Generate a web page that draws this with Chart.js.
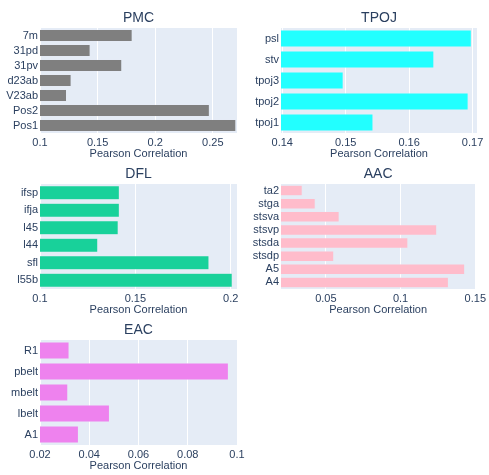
<!DOCTYPE html>
<html>
<head>
<meta charset="utf-8">
<script src="https://cdn.jsdelivr.net/npm/chart.js@4.4.0/dist/chart.umd.min.js"></script>
<style>
  html, body { margin: 0; padding: 0; background: #fff; overflow: hidden; }
  body { width: 489px; height: 475px; position: relative; }
  canvas { position: absolute; }
</style>
</head>
<body>
<canvas id="pmc"></canvas>
<canvas id="tpoj"></canvas>
<canvas id="dfl"></canvas>
<canvas id="aac"></canvas>
<canvas id="eac"></canvas>
<script>
// PMC
const pmcLabels = ['7m', '31pd', '31pv', 'd23ab', 'V23ab', 'Pos2', 'Pos1'];
const pmcValues = [0.180, 0.1435, 0.171, 0.127, 0.123, 0.247, 0.270];
const pmcTicks = [0.1, 0.15, 0.2, 0.25];

// TPOJ
const tpojLabels = ['psl', 'stv', 'tpoj3', 'tpoj2', 'tpoj1'];
const tpojValues = [0.1698, 0.1639, 0.1496, 0.1693, 0.1543];
const tpojTicks = [0.14, 0.15, 0.16, 0.17];

// DFL
const dflLabels = ['ifsp', 'ifja', 'l45', 'l44', 'sfl', 'l55b'];
const dflValues = [0.1416, 0.1416, 0.141, 0.1303, 0.1886, 0.2008];
const dflTicks = [0.1, 0.15, 0.2];

// AAC
const aacLabels = ['ta2', 'stga', 'stsva', 'stsvp', 'stsda', 'stsdp', 'A5', 'A4'];
const aacValues = [0.0342, 0.0429, 0.0589, 0.1242, 0.1049, 0.0553, 0.1429, 0.132];
const aacTicks = [0.05, 0.1, 0.15];

// EAC
const eacLabels = ['R1', 'pbelt', 'mbelt', 'lbelt', 'A1'];
const eacValues = [0.0318, 0.0965, 0.0313, 0.0482, 0.0356];
const eacTicks = [0.02, 0.04, 0.06, 0.08, 0.1];

const FONT = '"Liberation Sans", Arial, sans-serif';
const TEXT = '#2a3f5f';

// fondo del area de dibujo + titulo de cada subplot
const plotBg = {
  id: 'plotBg',
  beforeDraw(chart) {
    const a = chart.chartArea;
    const ctx = chart.ctx;
    ctx.save();
    ctx.fillStyle = '#E5ECF6';
    ctx.fillRect(a.left, a.top, a.right - a.left, a.bottom - a.top);
    ctx.restore();
  },
  afterDraw(chart) {
    const a = chart.chartArea;
    const ctx = chart.ctx;
    ctx.save();
    ctx.font = '14px ' + FONT;
    ctx.fillStyle = TEXT;
    ctx.textAlign = 'center';
    ctx.textBaseline = 'middle';
    ctx.fillText(chart.options.plugins.plotBg.title, (a.left + a.right) / 2, a.top - 10);
    ctx.restore();
  }
};

function crearSubplot(id, pos, titulo, labels, values, ticks, min, max, color) {
  const canvas = document.getElementById(id);
  canvas.style.left = pos.left + 'px';
  canvas.style.top = pos.top + 'px';
  canvas.style.width = pos.width + 'px';
  canvas.style.height = pos.height + 'px';
  canvas.width = pos.width;
  canvas.height = pos.height;

  return new Chart(canvas.getContext('2d'), {
    type: 'bar',
    data: {
      labels: labels,
      datasets: [{
        data: values,
        backgroundColor: color,
        borderColor: 'rgba(229, 236, 246, 0.8)',
        borderWidth: 0.5,
        barPercentage: 0.8,
        categoryPercentage: 1.0
      }]
    },
    options: {
      indexAxis: 'y',
      responsive: false,
      animation: false,
      devicePixelRatio: 1,
      layout: { padding: { top: 24, right: 12, bottom: 0, left: 0 } },
      scales: {
        x: {
          min: min,
          max: max,
          afterBuildTicks: scale => { scale.ticks = ticks.map(v => ({ value: v })); },
          afterFit: scale => { scale.height = 30; },
          grid: { color: '#ffffff', lineWidth: 1, drawTicks: false },
          border: { display: false },
          ticks: {
            autoSkip: false,
            maxRotation: 0,
            padding: 3,
            color: TEXT,
            font: { family: FONT, size: 11 },
            callback: v => String(v)
          },
          title: {
            display: true,
            text: 'Pearson Correlation',
            color: TEXT,
            font: { family: FONT, size: 11 },
            padding: { top: 0, bottom: 2 }
          }
        },
        y: {
          afterFit: scale => { scale.width = pos.axis; },
          grid: { display: false, drawTicks: false },
          border: { display: false },
          ticks: {
            autoSkip: false,
            padding: 2,
            color: TEXT,
            font: { family: FONT, size: 11 }
          }
        }
      },
      plugins: {
        legend: { display: false },
        tooltip: { enabled: false },
        plotBg: { title: titulo }
      }
    },
    plugins: [plotBg]
  });
}

crearSubplot('pmc', { left: 0, top: 4, width: 249, height: 159, axis: 40 },
  'PMC', pmcLabels, pmcValues, pmcTicks, 0.1, 0.271, '#7f7f7f');
crearSubplot('tpoj', { left: 245, top: 4, width: 244, height: 159, axis: 36 },
  'TPOJ', tpojLabels, tpojValues, tpojTicks, 0.1398, 0.1707, '#22ffff');
crearSubplot('dfl', { left: 0, top: 160, width: 249, height: 159, axis: 40 },
  'DFL', dflLabels, dflValues, dflTicks, 0.1, 0.2033, '#18d19a');
crearSubplot('aac', { left: 245, top: 160, width: 244, height: 159, axis: 36 },
  'AAC', aacLabels, aacValues, aacTicks, 0.02, 0.15, '#ffbccb');
crearSubplot('eac', { left: 0, top: 316, width: 249, height: 159, axis: 40 },
  'EAC', eacLabels, eacValues, eacTicks, 0.02, 0.1, '#ee82ee');
</script>
</body>
</html>
